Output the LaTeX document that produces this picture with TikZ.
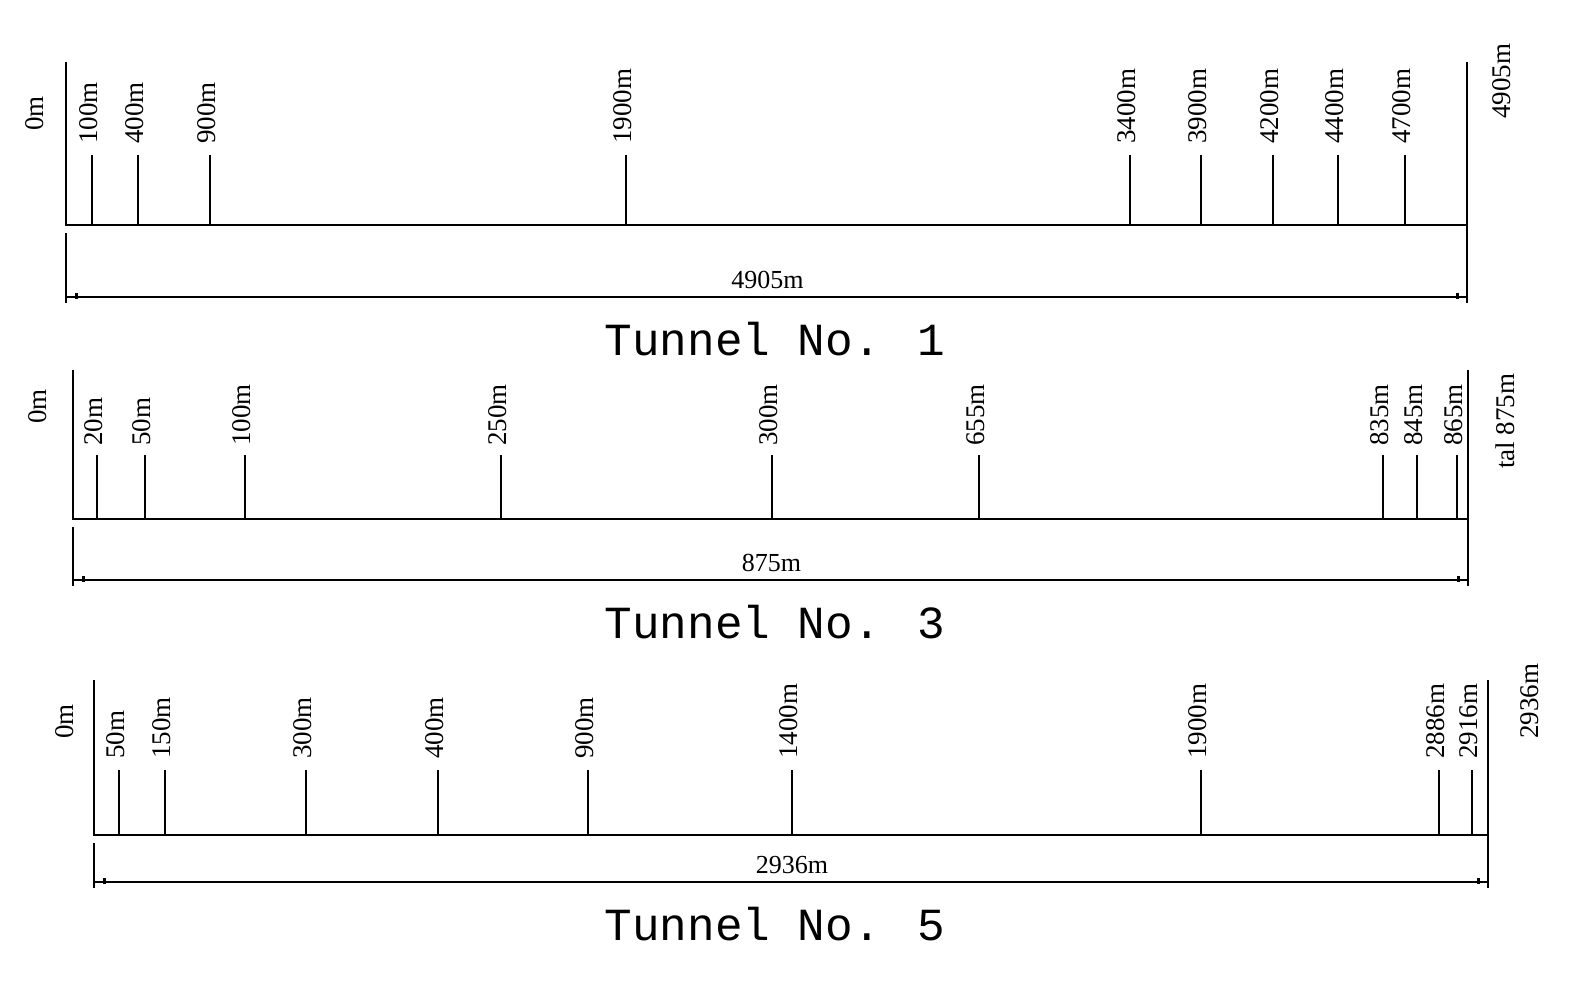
\documentclass[tikz,border=0pt]{standalone}
\usepackage{fontspec}
\setmainfont{Liberation Serif}
\newfontfamily\titlefont{Liberation Mono}
\begin{document}
\begin{tikzpicture}[x=1pt,y=-1pt,line width=2.4pt,
  lab/.style={rotate=90,anchor=west,font=\fontsize{27}{27}\selectfont,inner sep=0pt},
  ttl/.style={font=\titlefont\fontsize{46}{46}\selectfont},
  dim/.style={font=\fontsize{26}{26}\selectfont,inner sep=0pt}]
\useasboundingbox (0,0) rectangle (1592,982);
\foreach \L/\R/\base/\top/\tk/\dimy/\labb/\ticks/\dl/\tt/\zx/\zy/\ex/\ey/\et [count=\n] in {
 66/1467/225/62/155/297/145/{92/100m,138/400m,210/900m,626/1900m,1130/3400m,1201/3900m,1273/4200m,1338/4400m,1405/4700m}/4905m/Tunnel No. 1/35/132/1502/120/4905m,
 73/1468/519/370/455/580/447/{97/20m,145/50m,245/100m,501/250m,772/300m,979/655m,1383/835m,1417/845m,1457/865m}/875m/Tunnel No. 3/38/425/1505/470/tal 875m,
 94/1488/835/680/770/882/760/{119/50m,165/150m,306/300m,438/400m,588/900m,792/1400m,1201/1900m,1439/2886m,1472/2916m}/2936m/Tunnel No. 5/65/740/1530/740/2936m}{
  \coordinate (a\n) at (\L,\top);
  \coordinate (b\n) at (\L,\base);
  \coordinate (c\n) at (\R,\top);
  \coordinate (d\n) at (\R,\dimy+6);
  \draw (a\n) -- (b\n) -- (\R,\base);
  \draw (c\n) -- (d\n);
  \draw (\L,\base+8) -- (\L,\dimy+6);
  \draw (\L,\dimy) -- (\R,\dimy);
  \draw[line width=3pt] (\L+10,\dimy-4) -- (\L+10,\dimy+2);
  \draw[line width=3pt] (\R-10,\dimy-4) -- (\R-10,\dimy+2);
  \foreach \x/\t in \ticks {
    \draw (\x,\tk) -- (\x,\base);
    \node[lab] at (\x-3,\labb) {\t};
  }
  \node[lab] at (\zx,\zy) {0m};
  \node[lab] at (\ex,\ey) {\et};
  \node[dim] at ({(\L+\R)/2+1},\dimy-17) {\dl};
  \node[ttl] at (775,\dimy+42) {\tt};
}
\end{tikzpicture}
\end{document}
